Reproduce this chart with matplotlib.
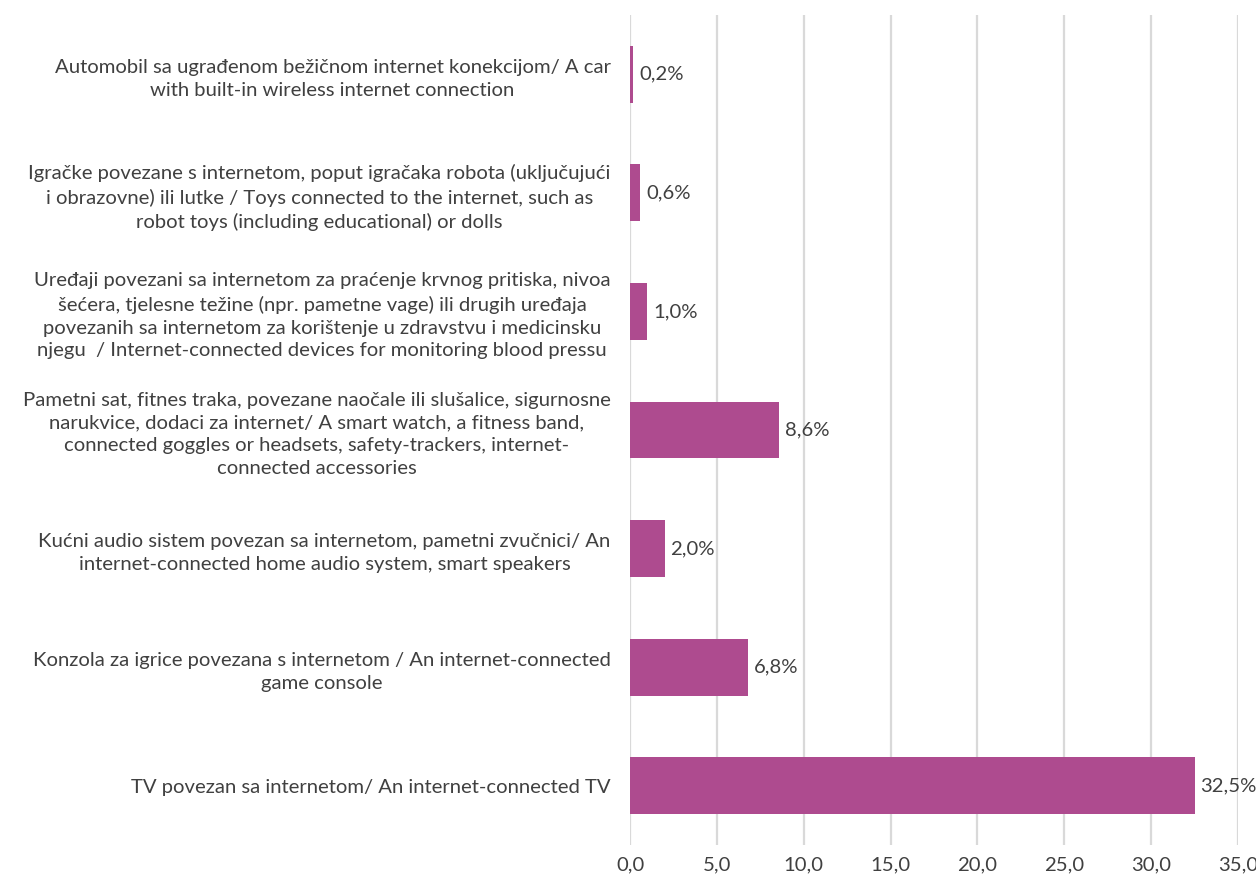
import numpy as np
from matplotlib import pyplot as plt

#-----------------------------------------------------------------------------------------

categories = [
    "Automobil sa ugrađenom bežičnom internet konekcijom/ A car\n"
    "with built-in wireless internet connection",
    "Igračke povezane s internetom, poput igračaka robota (uključujući\n"
    "i obrazovne) ili lutke / Toys connected to the internet, such as\n"
    "robot toys (including educational) or dolls",
    "Uređaji povezani sa internetom za praćenje krvnog pritiska, nivoa\n"
    "šećera, tjelesne težine (npr. pametne vage) ili drugih uređaja\n"
    "povezanih sa internetom za korištenje u zdravstvu i medicinsku\n"
    "njegu  / Internet-connected devices for monitoring blood pressu",
    "Pametni sat, fitnes traka, povezane naočale ili slušalice, sigurnosne\n"
    "narukvice, dodaci za internet/ A smart watch, a fitness band,\n"
    "connected goggles or headsets, safety-trackers, internet-\n"
    "connected accessories",
    "Kućni audio sistem povezan sa internetom, pametni zvučnici/ An\n"
    "internet-connected home audio system, smart speakers",
    "Konzola za igrice povezana s internetom / An internet-connected\n"
    "game console",
    "TV povezan sa internetom/ An internet-connected TV",
]
values = [0.2, 0.6, 1.0, 8.6, 2.0, 6.8, 32.5]
xticks = [0, 5, 10, 15, 20, 25, 30, 35]

#-----------------------------------------------------------------------------------------

plt.rcParams['font.family'] = ['Lato', 'DejaVu Sans']
txt = '#404040'
fs = 14.6

fig = plt.figure(figsize=(12.56, 8.86), dpi=100)
ax = fig.add_axes([0.5016, 0.0463, 0.4841, 0.9367])

y = np.arange(len(categories))
bars = ax.barh(y, values, height=0.48, color='#AE4B8F', zorder=3)

ax.set_ylim(len(categories) - 0.5, -0.5)
ax.set_xlim(0, 35)
ax.set_xticks(xticks)
ax.set_xticklabels([f"{v:.1f}".replace('.', ',') for v in xticks],
                   fontsize=fs, color=txt)
ax.set_yticks(y)
ax.set_yticklabels(categories, fontsize=fs, color=txt, linespacing=1.42)
for t in ax.get_yticklabels():
    t.set_multialignment('center')

ax.tick_params(axis='y', length=0, pad=14)
ax.tick_params(axis='x', length=0, pad=8)
ax.grid(axis='x', color='#D9D9D9', linewidth=1.6, zorder=0)
for s in ax.spines.values():
    s.set_visible(False)

ax.bar_label(bars, labels=[f"{v:.1f}%".replace('.', ',') for v in values],
             padding=4, fontsize=fs, color=txt)

fig.savefig("out.png", dpi=100)
